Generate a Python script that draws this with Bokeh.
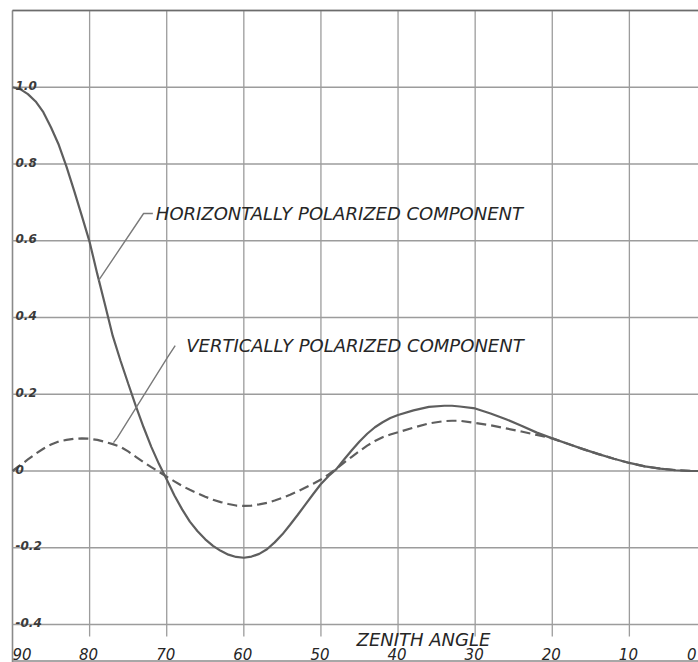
from bokeh.plotting import figure
from bokeh.models import Range1d
from bokeh.core.properties import value
from bokeh.embed import file_html
from bokeh.resources import INLINE

# ---- data ----
zenith = [90, 89, 88, 87, 86, 85, 84, 83, 82, 81, 80, 79, 78, 77, 76, 75, 74, 73, 72, 71,
          70, 69, 68, 67, 66, 65, 64, 63, 62, 61, 60, 59, 58, 57, 56, 55, 54, 53, 52, 51,
          50, 49, 48, 47, 46, 45, 44, 43, 42, 41, 40, 38, 36, 34, 33, 32, 30, 28, 26, 24,
          22, 20, 18, 16, 14, 12, 10, 8, 6, 4, 2, 0]
horizontal = [1.0, 0.995, 0.982, 0.963, 0.935, 0.895, 0.85, 0.793, 0.73, 0.664,
              0.597, 0.513, 0.433, 0.352, 0.288, 0.228, 0.169, 0.114, 0.063, 0.018,
              -0.022, -0.064, -0.1, -0.132, -0.157, -0.178, -0.195, -0.208, -0.218, -0.224,
              -0.226, -0.223, -0.216, -0.204, -0.186, -0.165, -0.14, -0.114, -0.087, -0.06,
              -0.034, -0.013, 0.005, 0.03, 0.054, 0.077, 0.097, 0.114, 0.127, 0.138,
              0.146, 0.158, 0.167, 0.170, 0.170, 0.168, 0.163, 0.150, 0.135, 0.118,
              0.100, 0.085, 0.071, 0.057, 0.044, 0.032, 0.021, 0.012, 0.006, 0.002, 0.0, 0.0]
vertical = [0.0, 0.015, 0.03, 0.045, 0.058, 0.069, 0.077, 0.081, 0.084, 0.085,
            0.084, 0.081, 0.076, 0.07, 0.063, 0.051, 0.037, 0.023, 0.01, -0.002,
            -0.015, -0.027, -0.039, -0.049, -0.058, -0.067, -0.075, -0.081, -0.086, -0.09,
            -0.091, -0.09, -0.087, -0.083, -0.077, -0.07, -0.062, -0.053, -0.043, -0.033,
            -0.022, -0.009, 0.006, 0.022, 0.037, 0.052, 0.066, 0.078, 0.088, 0.095,
            0.101, 0.113, 0.124, 0.130, 0.131, 0.131, 0.125, 0.119, 0.111, 0.103,
            0.094, 0.085, 0.071, 0.057, 0.044, 0.032, 0.021, 0.012, 0.006, 0.002, 0.0, 0.0]

x_ticks = [90, 80, 70, 60, 50, 40, 30, 20, 10, 0]
x_tick_labels = ["90", "80", "70", "60", "50", "40", "30", "20", "10", "0"]
y_grid = [1.2, 1.0, 0.8, 0.6, 0.4, 0.2, 0.0, -0.2, -0.4]
y_ticks = [1.0, 0.8, 0.6, 0.4, 0.2, 0.0, -0.2, -0.4]
y_tick_labels = ["1.0", "0.8", "0.6", "0.4", "0.2", "0", "-0.2", "-0.4"]

x_title = "ZENITH ANGLE"
h_label = "HORIZONTALLY POLARIZED COMPONENT"
v_label = "VERTICALLY POLARIZED COMPONENT"
h_leader_x = [71.8, 73.0, 78.85]
h_leader_y = [0.671, 0.671, 0.496]
v_leader_x = [68.9, 69.9, 76.4, 76.9]
v_leader_y = [0.327, 0.296, 0.087, 0.074]

# ---- figure (page has no margin: figure fills the window) ----
W, H = 698, 662
PX_X = 7.711     # pixels per degree
PX_Y = 383.75    # pixels per unit
x0 = 90 + 12 / PX_X
x1 = x0 - W / PX_X
y1 = 1.2 + 10 / PX_Y
y0 = y1 - H / PX_Y

p = figure(width=W, height=H, output_backend="svg", toolbar_location=None,
           x_range=Range1d(x0, x1), y_range=Range1d(y0, y1),
           x_axis_location=None, y_axis_location=None, min_border=0)
p.outline_line_color = None
p.xgrid.visible = False
p.ygrid.visible = False
p.background_fill_color = "white"
p.border_fill_color = "white"

GRID = "#9c9c9c"
INK = "#262626"
CURVE = "#5e5e5e"

tick_low = -0.4 - 12 / PX_Y

# vertical grid lines with short ticks below the -0.4 line
p.segment(x0=x_ticks[1:], y0=[tick_low] * (len(x_ticks) - 1),
          x1=x_ticks[1:], y1=[1.2] * (len(x_ticks) - 1), line_color=GRID, line_width=1.3)
# left border
p.segment(x0=[90], y0=[y0], x1=[90], y1=[1.2], line_color="#8a8a8a", line_width=1.6)
# horizontal grid lines
p.segment(x0=[90] * len(y_grid), y0=y_grid, x1=[x1] * len(y_grid), y1=y_grid,
          line_color=GRID, line_width=1.3)
# top and bottom border
p.segment(x0=[90], y0=[1.2], x1=[x1], y1=[1.2], line_color="#6c6c6c", line_width=1.7)
p.segment(x0=[90], y0=[y0 + 1.5 / PX_Y], x1=[x1], y1=[y0 + 1.5 / PX_Y],
          line_color="#8a8a8a", line_width=1.5)

# curves
p.line(zenith, vertical, line_color=CURVE, line_width=2.2, line_dash="10 5")
p.line(zenith, horizontal, line_color=CURVE, line_width=2.2)

# leaders
p.line(h_leader_x, h_leader_y, line_color="#7a7a7a", line_width=1.4)
p.line(v_leader_x, v_leader_y, line_color="#7a7a7a", line_width=1.4)

FONT = value("DejaVu Sans")
# annotations
p.text(x=[h_leader_x[0]], y=[h_leader_y[0]], text=[h_label], text_font=FONT,
       text_font_style="italic", text_font_size="18px", text_color=INK,
       text_baseline="middle", text_align="left", x_offset=3)
p.text(x=[v_leader_x[0]], y=[v_leader_y[0]], text=[v_label], text_font=FONT,
       text_font_style="italic", text_font_size="18px", text_color=INK,
       text_baseline="middle", text_align="left", x_offset=11)

# y tick labels, inside the grid above each line
p.text(x=[90] * len(y_ticks), y=y_ticks, text=y_tick_labels, text_font=FONT,
       text_font_style="bold italic", text_font_size="12px", text_color="#3a3a3a",
       text_baseline="alphabetic", text_align="left", x_offset=3, y_offset=-2)

# x tick labels along the bottom
XL = dict(text_font=FONT, text_font_style="italic", text_font_size="15px",
          text_color=INK, text_baseline="alphabetic", y_offset=-9)
p.text(x=x_ticks[:1], y=[y0], text=x_tick_labels[:1], text_align="left", x_offset=0, **XL)
p.text(x=x_ticks[1:-1], y=[y0] * (len(x_ticks) - 2), text=x_tick_labels[1:-1],
       text_align="center", x_offset=-1, **XL)
# the last label sits against the right edge
p.text(x=[x1], y=[y0], text=x_tick_labels[-1:], text_align="right", x_offset=-2, **XL)

# axis title
p.text(x=[36.7], y=[-0.4], text=[x_title], text_font=FONT, text_font_style="italic",
       text_font_size="18px", text_color=INK, text_baseline="alphabetic",
       text_align="center", y_offset=15)

open("out.html", "w").write(file_html(p, INLINE))
